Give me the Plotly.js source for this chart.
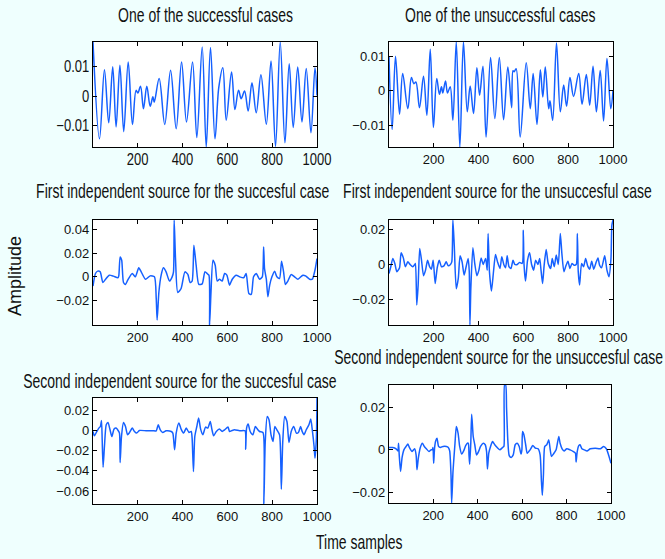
<!DOCTYPE html>
<html>
<head>
<meta charset="utf-8">
<script src="https://cdn.plot.ly/plotly-3.0.1.min.js"></script>
<style>
html,body{margin:0;padding:0;background:#effffe;}
#chart{width:665px;height:559px;}
</style>
</head>
<body>
<div id="chart"></div>
<script>
// ---------- data ----------
var xTicks = [200, 400, 600, 800, 1000];
var xTickText = ["200", "400", "600", "800", "1000"];

// Panel 1: One of the successful cases
var s1x = [1,30,52,71,89,104,121,138,158,177,193,201,213,226,241,256,268,274,296,321,347,372,396,418,445,464,488,506,525,545,562,580,595,619,634,650,662,677,693,710,729,750,774,795,815,836,857,876,894,914,933,952,973,991,1000];
var s1y = [0.0184,-0.0144,0.0090,-0.0090,0.0100,-0.0104,0.0105,-0.0120,0.0116,-0.0096,0.0020,0.0011,0.0034,-0.0042,0.0034,-0.0034,-0.0002,-0.0020,0.0060,-0.0096,0.0088,-0.0110,0.0116,-0.0087,0.0116,-0.0140,0.0167,-0.0172,0.0165,-0.0144,0.0030,0.0097,-0.0081,0.0082,-0.0045,0.0020,-0.0008,0.0018,-0.0050,0.0046,-0.0056,0.0073,-0.0095,0.0120,-0.0170,0.0184,-0.0158,0.0110,-0.0106,0.0099,-0.0087,0.0094,-0.0124,0.0097,0.0003];

// Panel 2: One of the unsuccessful cases
var s2x = [1,15,30,48,62,85,101,112,121,137,155,170,185,199,214,226,235,241,253,262,274,286,301,317,333,350,363,378,393,405,420,434,454,473,493,512,531,548,554,559,568,586,613,631,644,661,676,687,698,713,719,731,748,765,780,793,808,824,847,862,881,896,911,926,943,958,973,990,1000];
var s2y = [0.0100,-0.0113,0.0101,-0.0068,0.0051,-0.0052,0.0039,0.0021,0.0026,-0.0049,0.0043,-0.0071,0.0122,-0.0107,0.0036,-0.0010,0.0012,-0.0006,0.0029,-0.0006,0.0012,-0.0086,0.0143,-0.0164,0.0143,-0.0061,0.0014,-0.0066,0.0068,-0.0013,0.0072,-0.0135,0.0098,-0.0081,0.0098,-0.0084,0.0070,-0.0049,0.0059,0.0056,0.0065,-0.0135,0.0082,-0.0052,0.0051,-0.0098,0.0062,-0.0018,0.0070,-0.0052,-0.0029,-0.0086,0.0140,-0.0061,0.0017,-0.0045,0.0039,-0.0016,0.0051,-0.0039,0.0048,-0.0042,0.0072,-0.0061,0.0060,-0.0088,0.0095,-0.0052,0.0000];

// Panel 3: First independent source for the succesful case
var s3x = [1,12,22,33,45,57,74,92,112,116,122,129,137,146,156,176,190,205,216,235,256,275,283,287,295,305,315,327,342,354,360,363,369,379,394,411,424,434,443,451,461,473,488,500,510,518,521,527,536,546,555,565,577,588,598,610,622,640,655,673,684,696,707,717,729,744,756,762,766,774,781,789,799,811,821,833,842,851,859,870,885,900,915,937,949,967,979,990,1000];
var s3y = [-0.0078,0.0028,0.0048,0.0042,-0.0048,-0.0020,0.0014,0.0006,-0.0008,0.0008,0.0168,0.0140,-0.0048,-0.0064,-0.0028,0.0028,0.0000,0.0076,0.0042,-0.0020,0.0008,0.0000,-0.0182,-0.0364,-0.0126,0.0014,0.0076,0.0042,-0.0036,0.0000,0.0042,0.0479,0.0154,-0.0132,-0.0098,0.0042,0.0020,-0.0048,-0.0036,0.0266,0.0098,-0.0064,-0.0059,0.0042,0.0028,0.0014,-0.0406,-0.0140,0.0140,0.0098,-0.0036,-0.0020,-0.0036,0.0028,0.0014,-0.0070,-0.0020,0.0014,0.0000,-0.0008,0.0028,-0.0140,-0.0148,0.0000,0.0028,-0.0020,0.0000,0.0252,0.0070,-0.0020,-0.0168,-0.0070,0.0000,0.0048,0.0000,-0.0014,0.0132,0.0042,-0.0064,-0.0036,0.0020,0.0000,-0.0020,0.0014,0.0008,-0.0020,-0.0020,0.0048,0.0154];

// Panel 4: First independent source for the unsuccesful case
var s4x = [1,9,18,27,36,48,55,65,74,85,95,107,116,119,125,131,138,146,155,164,173,182,190,198,207,216,225,235,246,256,265,275,281,286,292,301,310,318,327,336,345,354,359,362,366,375,384,393,402,412,421,432,439,443,449,458,467,476,485,496,504,513,521,528,536,545,554,562,573,583,595,600,603,610,619,628,637,646,655,665,673,679,686,693,702,711,722,729,738,747,756,765,772,781,790,799,808,817,826,836,841,845,851,860,869,878,887,896,905,914,923,933,940,949,963,973,982,991,995,1000];
var s4y = [-0.0052,-0.0013,0.0035,0.0006,-0.0042,-0.0019,0.0067,0.0038,-0.0013,0.0015,0.0000,-0.0013,0.0000,0.0006,-0.0234,-0.0119,0.0092,0.0025,-0.0065,-0.0033,0.0025,-0.0013,-0.0027,0.0025,-0.0110,-0.0019,0.0025,-0.0013,-0.0008,0.0015,-0.0008,0.0000,0.0015,0.0257,0.0111,-0.0140,-0.0081,0.0050,0.0015,-0.0061,-0.0013,0.0035,-0.0042,-0.0350,-0.0138,0.0096,0.0000,-0.0065,-0.0033,0.0038,0.0000,0.0035,-0.0033,0.0179,-0.0042,-0.0154,-0.0042,0.0058,0.0015,-0.0023,0.0044,0.0000,-0.0019,0.0050,-0.0013,-0.0023,0.0025,0.0000,0.0000,0.0012,0.0006,0.0198,0.0006,-0.0096,0.0025,0.0067,0.0000,-0.0033,0.0025,0.0000,0.0035,-0.0033,-0.0110,-0.0004,0.0087,0.0006,-0.0023,0.0035,-0.0013,0.0054,0.0000,0.0179,0.0063,-0.0042,-0.0008,0.0019,-0.0023,0.0006,-0.0004,0.0000,0.0179,-0.0042,-0.0119,0.0006,-0.0013,0.0035,-0.0008,-0.0027,0.0019,-0.0027,0.0006,0.0038,-0.0004,-0.0019,0.0050,-0.0033,-0.0071,0.0035,0.0227,0.0257];

// Panel 5: Second independent source for the succesful case
var s5x = [1,7,18,27,34,39,42,46,52,60,68,77,85,95,104,113,119,122,128,137,146,155,164,176,186,196,208,238,268,283,292,301,312,327,350,357,365,372,384,394,405,417,429,439,443,449,455,464,472,481,491,503,513,524,531,539,551,565,577,588,603,610,621,632,655,679,682,686,693,702,714,725,734,744,759,763,769,778,786,795,804,812,821,833,841,847,856,866,875,885,896,908,917,927,934,942,952,964,972,979,987,991,997,1000];
var s5y = [-0.0007,-0.0050,-0.0007,0.0027,0.0043,0.0103,-0.0090,-0.0363,-0.0157,0.0060,0.0083,0.0010,-0.0057,0.0017,0.0027,0.0003,-0.0023,-0.0317,-0.0057,0.0083,0.0043,-0.0040,-0.0017,0.0027,-0.0007,-0.0023,0.0003,0.0000,0.0000,0.0000,0.0060,0.0010,-0.0017,0.0000,-0.0007,-0.0023,-0.0190,-0.0023,0.0077,0.0017,-0.0023,0.0027,-0.0017,-0.0007,-0.0073,-0.0407,-0.0057,0.0043,0.0127,0.0017,-0.0040,0.0037,0.0027,0.0093,0.0017,-0.0050,-0.0007,0.0017,-0.0007,0.0010,0.0037,-0.0007,0.0003,0.0010,0.0000,0.0000,-0.0183,0.0027,0.0067,-0.0007,-0.0040,0.0043,0.0017,-0.0007,-0.0017,-0.0730,-0.0123,0.0143,0.0110,-0.0040,-0.0107,0.0043,0.0010,-0.0040,-0.0583,-0.0123,0.0143,0.0093,-0.0117,-0.0007,0.0043,-0.0023,-0.0017,0.0043,-0.0007,-0.0040,0.0010,0.0060,0.0117,0.0010,-0.0157,-0.0273,-0.0090,0.0327];

// Panel 6: Second independent source for the unsuccesful case
var s6x = [1,18,33,41,44,47,53,60,68,78,86,93,105,116,123,127,133,142,151,160,169,181,190,196,199,202,206,211,217,224,232,244,259,268,274,280,283,289,298,304,312,319,328,337,346,354,358,361,364,369,373,380,387,395,404,413,425,434,440,444,450,458,467,477,488,500,512,518,521,526,530,536,542,551,560,569,578,587,595,599,602,608,616,623,636,648,660,672,681,687,691,696,702,711,720,726,732,741,753,765,771,780,789,801,816,831,840,843,848,855,861,869,880,892,907,929,952,967,979,989,1000];
var s6y = [0.0011,0.0011,0.0005,-0.0005,0.0031,-0.0024,-0.0102,-0.0036,0.0000,0.0016,0.0027,0.0011,-0.0008,0.0005,-0.0024,-0.0094,-0.0039,0.0011,0.0031,0.0016,0.0005,-0.0008,0.0000,0.0000,0.0011,-0.0063,0.0008,0.0042,0.0055,0.0016,0.0011,0.0016,0.0016,0.0011,-0.0005,-0.0118,-0.0251,-0.0102,0.0031,0.0110,0.0078,0.0016,-0.0020,-0.0005,0.0020,0.0031,0.0031,-0.0024,-0.0068,0.0031,0.0168,0.0063,0.0024,-0.0024,-0.0008,0.0016,0.0031,0.0024,-0.0008,-0.0090,-0.0016,0.0016,0.0039,0.0024,0.0011,0.0000,0.0011,0.0016,0.0306,0.0306,0.0196,0.0039,-0.0027,-0.0036,-0.0024,0.0024,0.0031,0.0016,-0.0020,0.0000,0.0086,0.0071,0.0024,-0.0016,0.0000,0.0020,0.0008,0.0005,-0.0024,-0.0149,-0.0215,-0.0118,0.0016,0.0024,0.0047,0.0005,-0.0031,-0.0020,0.0000,0.0063,0.0031,0.0005,-0.0005,0.0005,0.0000,-0.0008,-0.0016,-0.0058,-0.0008,0.0020,0.0024,0.0005,0.0000,-0.0005,0.0005,0.0008,0.0005,0.0016,0.0005,-0.0024,-0.0063];

var titles = [
  "One of the successful cases",
  "One of the unsuccessful cases",
  "First independent source for the succesful case",
  "First independent source for the unsuccesful case",
  "Second independent source for the succesful case",
  "Second independent source for the unsuccesful case"
];
var yRanges = [[-0.0172,0.0184],[-0.0164,0.0143],[-0.0406,0.0479],[-0.035,0.0257],[-0.073,0.0327],[-0.0251,0.0306]];
var yTickVals = [[-0.01,0,0.01],[-0.01,0,0.01],[-0.02,0,0.02,0.04],[-0.02,0,0.02],[-0.06,-0.04,-0.02,0,0.02],[-0.02,0,0.02]];
var yTickText = [["\u22120.01","0","0.01"],["\u22120.01","0","0.01"],["\u22120.02","0","0.02","0.04"],["\u22120.02","0","0.02"],["\u22120.06","\u22120.04","\u22120.02","0","0.02"],["\u22120.02","0","0.02"]];
var xLabel = "Time samples";
var yLabel = "Amplitude";

// ---------- layout (pixel boxes) ----------
var W = 665, H = 559;
var boxes = [ // [left, right, top, bottom] in px
  [93,317,42,147],[389,613,42,147],
  [93,317,220,325],[389,613,220,325],
  [93,317,398,504],[389,611,385,503]
];
var titlePos = [[205,15],[501,15],[183,191],[497,191],[180,381],[498,357]];

var FONT = '"Liberation Sans", Arial, Helvetica, sans-serif';
var LINE = '#1560ff';
var TITLE_SIZE = 14;
var TICK_SIZE = 13;

var xs = [s1x,s2x,s3x,s4x,s5x,s6x];
var ys = [s1y,s2y,s3y,s4y,s5y,s6y];
var traces = [];
var layout = {
  width: W, height: H,
  margin: {l:0,r:0,t:0,b:0},
  paper_bgcolor: '#effffe',
  plot_bgcolor: '#ffffff',
  showlegend: false,
  font: {family: FONT, size: TICK_SIZE, color: '#111'},
  annotations: []
};
for (var i = 0; i < 6; i++) {
  var n = i + 1;
  var sfx = n === 1 ? '' : String(n);
  traces.push({
    x: xs[i], y: ys[i], type: 'scatter', mode: 'lines',
    line: {color: LINE, width: 1.5, shape: 'spline', smoothing: i < 2 ? 1 : 0.6},
    xaxis: 'x' + sfx, yaxis: 'y' + sfx, hoverinfo: 'skip'
  });
  var b = boxes[i];
  layout['xaxis' + sfx] = {
    domain: [b[0]/W, b[1]/W], anchor: 'y' + sfx,
    range: [1, 1000], tickvals: xTicks, ticktext: xTickText,
    ticks: 'inside', ticklen: 4, tickcolor: '#000', mirror: 'ticks',
    showline: true, linecolor: '#000', linewidth: 1.2,
    showgrid: false, zeroline: false,
    tickfont: {family: FONT, size: TICK_SIZE, color: '#111'}
  };
  layout['yaxis' + sfx] = {
    domain: [1 - b[3]/H, 1 - b[2]/H], anchor: 'x' + sfx,
    range: yRanges[i], tickvals: yTickVals[i], ticktext: yTickText[i],
    ticks: 'inside', ticklen: 4, tickcolor: '#000', mirror: 'ticks',
    showline: true, linecolor: '#000', linewidth: 1.2,
    showgrid: false, zeroline: false,
    tickfont: {family: FONT, size: TICK_SIZE, color: '#111'}
  };
  layout.annotations.push({
    text: titles[i], xref: 'paper', yref: 'paper',
    x: titlePos[i][0]/W, y: 1 - titlePos[i][1]/H,
    xanchor: 'center', yanchor: 'middle', showarrow: false,
    font: {family: FONT, size: TITLE_SIZE, color: '#111'}
  });
}
layout.annotations.push({
  text: xLabel, xref: 'paper', yref: 'paper', x: 359/W, y: 1 - 542/H,
  xanchor: 'center', yanchor: 'middle', showarrow: false,
  font: {family: FONT, size: 14, color: '#111'}
});
layout.annotations.push({
  text: yLabel, xref: 'paper', yref: 'paper', x: 15/W, y: 1 - 276/H,
  xanchor: 'center', yanchor: 'middle', showarrow: false, textangle: -90,
  font: {family: FONT, size: 18, color: '#111'}
});

// stretch text vertically about its own centre (reference uses tall, narrow lettering)
function stretchText(el, s) {
  var bb = el.getBBox();
  var cy = bb.y + bb.height / 2;
  var t = el.getAttribute('transform') || '';
  el.setAttribute('transform', (t + ' translate(0,' + cy + ') scale(1,' + s + ') translate(0,' + (-cy) + ')').trim());
}

Plotly.newPlot('chart', traces, layout, {staticPlot: true, displayModeBar: false}).then(function () {
  var root = document.getElementById('chart');
  root.querySelectorAll('.annotation-text').forEach(function (el) {
    if (el.textContent === yLabel) return;
    stretchText(el, 1.45);
  });
  root.querySelectorAll('.xtick text, .ytick text').forEach(function (el) {
    stretchText(el, 1.2);
  });
});
</script>
</body>
</html>
